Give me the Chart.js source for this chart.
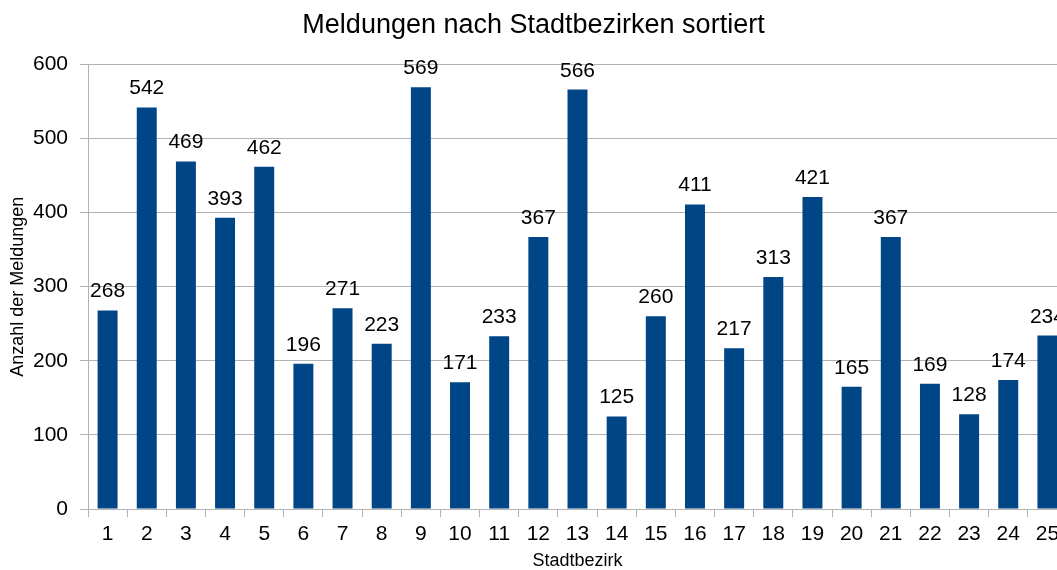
<!DOCTYPE html>
<html lang="de">
<head>
    <meta charset="UTF-8">
    <title>Meldungen nach Stadtbezirken</title>
    <script src="https://cdn.jsdelivr.net/npm/chart.js@4.4.1/dist/chart.umd.min.js"></script>
    <style>
        html, body { margin: 0; padding: 0; overflow: hidden; background: #fff; }
    </style>
</head>
<body>

<!-- wider than the window on purpose: the last bar is cut off in the original -->
<canvas id="bezirkChart" width="1067" height="570"></canvas>

<script>
    const bezirke = ['1', '2', '3', '4', '5', '6', '7', '8', '9', '10', '11', '12', '13',
        '14', '15', '16', '17', '18', '19', '20', '21', '22', '23', '24', '25'];
    const meldungen = [268, 542, 469, 393, 462, 196, 271, 223, 569, 171, 233, 367, 566,
        125, 260, 411, 217, 313, 421, 165, 367, 169, 128, 174, 234];

    const font = 'Liberation Sans, Arial, sans-serif';

    // values above the bars
    const barLabels = {
        id: 'barLabels',
        afterDatasetsDraw(chart) {
            const {ctx} = chart;
            const meta = chart.getDatasetMeta(0);
            ctx.save();
            ctx.font = `21px ${font}`;
            ctx.fillStyle = '#000';
            ctx.textAlign = 'center';
            ctx.textBaseline = 'alphabetic';
            meta.data.forEach((bar, i) => {
                ctx.fillText(meldungen[i], bar.x, bar.y - 13);
            });
            ctx.restore();
        }
    };

    new Chart(document.getElementById('bezirkChart'), {
        type: 'bar',
        data: {
            labels: bezirke,
            datasets: [{
                label: 'Meldungen',
                data: meldungen,
                backgroundColor: '#004586',
                borderWidth: 0,
                categoryPercentage: 1,
                barPercentage: 0.51
            }]
        },
        options: {
            responsive: false,
            animation: false,
            layout: {padding: 0},
            plugins: {
                legend: {display: false},
                tooltip: {enabled: false},
                title: {
                    display: true,
                    text: 'Meldungen nach Stadtbezirken sortiert',
                    color: '#000',
                    font: {family: font, size: 27, weight: 'normal'},
                    padding: {top: 9, bottom: 23}
                }
            },
            scales: {
                x: {
                    afterFit(scale) { scale.height = 61; },
                    grid: {
                        offset: true,
                        drawOnChartArea: false,
                        color: '#b3b3b3',
                        tickLength: 8
                    },
                    border: {color: '#b3b3b3', width: 1},
                    ticks: {color: '#000', font: {family: font, size: 21}, padding: 5, maxRotation: 0, autoSkip: false},
                    title: {
                        display: true,
                        text: 'Stadtbezirk',
                        color: '#000',
                        font: {family: font, size: 18},
                        padding: {top: 2, bottom: -2}
                    }
                },
                y: {
                    afterFit(scale) { scale.width = 88; },
                    min: 0,
                    max: 600,
                    ticks: {stepSize: 100, color: '#000', font: {family: font, size: 21}, padding: 12},
                    grid: {color: '#b3b3b3', tickLength: 8},
                    border: {color: '#b3b3b3', width: 1},
                    title: {
                        display: true,
                        text: 'Anzahl der Meldungen',
                        color: '#000',
                        font: {family: font, size: 18},
                        padding: {top: 7, bottom: 4}
                    }
                }
            }
        },
        plugins: [barLabels]
    });
</script>

</body>
</html>
